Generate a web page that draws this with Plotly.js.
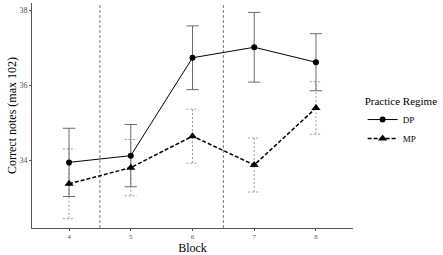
<!DOCTYPE html>
<html>
<head>
<meta charset="utf-8">
<script src="https://cdn.plot.ly/plotly-3.0.1.min.js"></script>
<style>html,body{margin:0;padding:0;background:#fff;}#chart{width:443px;height:255px;}</style>
</head>
<body>
<div id="chart"></div>
<script>
// Blocks and mean correct notes (± error) per practice regime
const blocks = [4, 5, 6, 7, 8];
const dpMean = [33.94, 34.12, 36.73, 37.01, 36.61];
const dpErr  = [0.91, 0.83, 0.85, 0.93, 0.76];
const mpMean = [33.37, 33.80, 34.64, 33.87, 35.39];
const mpErr  = [0.93, 0.75, 0.72, 0.72, 0.70];
const phaseBreaks = [4.5, 6.5];
const yTicks = [34, 36, 38];

// Error bars as line segments (stem + caps) so they can be styled/dashed
function errorSegments(x, m, e, hw) {
  const xs = [], ys = [];
  for (let i = 0; i < x.length; i++) {
    const lo = m[i] - e[i], hi = m[i] + e[i];
    xs.push(x[i], x[i], null, x[i] - hw, x[i] + hw, null, x[i] - hw, x[i] + hw, null);
    ys.push(lo, hi, null, hi, hi, null, lo, lo, null);
  }
  return {x: xs, y: ys};
}

const font = "'Liberation Serif', 'DejaVu Serif', serif";
const dpE = errorSegments(blocks, dpMean, dpErr, 0.1);
const mpE = errorSegments(blocks, mpMean, mpErr, 0.1);

const traces = [
  {x: mpE.x, y: mpE.y, mode: 'lines', showlegend: false, hoverinfo: 'skip',
   line: {color: '#9a9a9a', width: 1, dash: '2px,2px'}},
  {x: dpE.x, y: dpE.y, mode: 'lines', showlegend: false, hoverinfo: 'skip',
   line: {color: '#6b6b6b', width: 1}},
  {x: blocks, y: dpMean, name: 'DP', mode: 'lines+markers',
   line: {color: '#000', width: 1}, marker: {symbol: 'circle', size: 6, color: '#000'}},
  {x: blocks, y: mpMean, name: 'MP', mode: 'lines+markers',
   line: {color: '#000', width: 1.5, dash: '4px,2px'}, marker: {symbol: 'triangle-up', size: 8, color: '#000'}}
];

const shapes = phaseBreaks.map(b => ({
  type: 'line', xref: 'x', yref: 'paper', x0: b, x1: b, y0: 0, y1: 1,
  line: {color: '#555', width: 0.8, dash: '3px,2px'}, layer: 'below'
}));

const layout = {
  width: 443, height: 255,
  margin: {l: 32, r: 87, t: 3, b: 27},
  paper_bgcolor: '#fff', plot_bgcolor: '#fff',
  font: {family: font, color: '#000'},
  showlegend: true,
  shapes: shapes,
  xaxis: {
    range: [3.4, 8.6], tickvals: blocks, ticktext: blocks.map(String),
    showgrid: false, zeroline: false, showline: true, linecolor: '#555', linewidth: 1,
    ticks: 'outside', ticklen: 2, tickcolor: '#555',
    tickfont: {family: font, size: 7, color: '#555'},
    title: {text: 'Block', font: {family: font, size: 12, color: '#000'}}
  },
  yaxis: {
    range: [32.19, 38.19], tickvals: yTicks,
    showgrid: false, zeroline: false, showline: true, linecolor: '#555', linewidth: 1,
    ticks: 'outside', ticklen: 2, tickcolor: '#555',
    tickfont: {family: font, size: 8, color: '#555'},
    title: {text: 'Correct notes (max 102)', font: {family: font, size: 12, color: '#000'}, standoff: 0}
  },
  legend: {
    x: 1.03, y: 0.47, xanchor: 'left', yanchor: 'middle',
    font: {family: font, size: 9, color: '#000'},
    title: {text: 'Practice Regime', font: {family: font, size: 11, color: '#000'}},
    itemwidth: 30, tracegroupgap: 0, bgcolor: 'rgba(0,0,0,0)'
  }
};

Plotly.newPlot('chart', traces, layout, {displayModeBar: false, staticPlot: true});
</script>
</body>
</html>
